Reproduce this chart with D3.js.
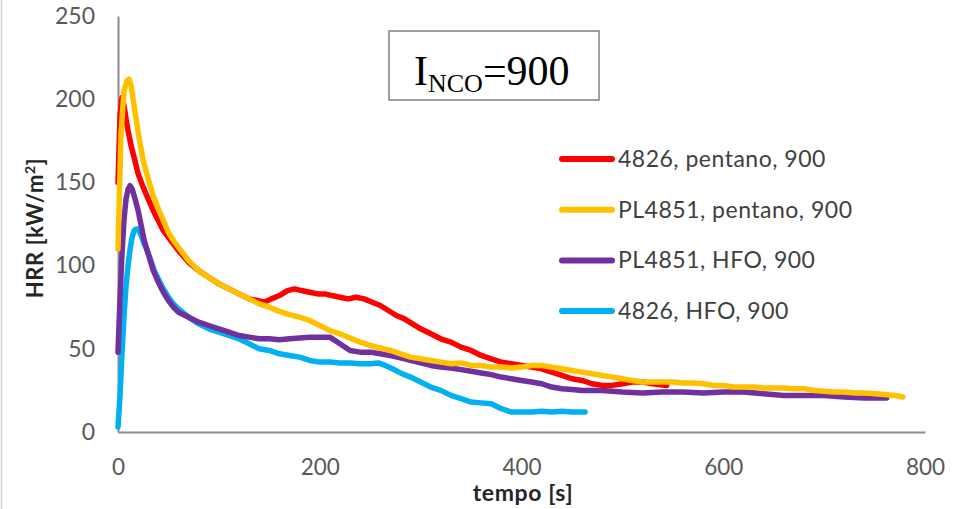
<!DOCTYPE html>
<html>
<head>
<meta charset="utf-8">
<script src="https://cdn.jsdelivr.net/npm/d3@7"></script>
<style>
  html, body { margin: 0; padding: 0; background: #fff; }
  svg { display: block; }
</style>
</head>
<body>
<svg id="chart" width="965" height="509"></svg>
<script>
// Heat release rate curves, INCO = 900
const xTicks = [0, 200, 400, 600, 800];
const yTicks = [0, 50, 100, 150, 200, 250];

const redT = [0,2,4,6,8,10,13,16,20,25,30,35,40,45,50,55,60,70,80,90,100,110,120,130,138,145,152,160,168,175,182,190,198,205,212,220,228,236,244,252,260,268,276,284,292,300,310,320,330,340,350,360,370,380,390,400,410,420,430,440,450,460,470,480,490,500,510,520,530,544];
const redV = [150,190,201,196,188,181,172,165,155,147,140,133,127,121,117,113,109,102,97,93,89,86,83,80,79,78,80,82,85,86,85,84,83,83,82,81,80,81,80,78,76,73,70,68,65,62,59,56,54,51,49,46,44,42,41,40,39,38,36,34,32,31,29,28,28,29,30,30,29,28];

const orangeT = [0,3,6,9,11,13,16,20,25,30,35,40,45,50,55,60,70,80,90,100,110,120,130,140,150,160,170,180,190,200,210,220,230,240,250,260,270,280,290,300,310,320,330,340,350,360,370,380,390,400,410,420,430,440,450,460,470,480,490,500,510,520,530,540,550,560,570,580,590,600,610,620,630,640,650,660,670,680,690,700,710,720,730,740,750,760,770,778];
const orangeV = [110,180,205,211,212,208,196,180,163,152,142,134,127,120,115,111,103,97,93,89,86,83,80,77,75,72.5,70.5,69,67,64,61,59,56.5,54,52,50.5,49,47,45,44,43,42,41,41.5,40,40,39,39,38.5,39,40,40,39,38,37,36,35,34,33,32,31,30,30,30,30,29.5,29.5,29,28,28,27,27,27,26.5,26.5,26.5,26,26,25,24.5,24,24,23.5,23.5,23,22.5,22,21];

const purpleT = [0,2,4,6,8,10,12,14,17,20,23,26,30,35,40,45,50,55,60,70,80,90,100,110,120,130,140,150,160,170,180,190,200,210,220,230,240,250,260,270,280,290,300,310,320,330,340,350,360,370,380,390,400,410,420,430,440,450,460,480,500,520,540,560,580,600,620,640,660,680,700,720,740,762];
const purpleV = [48,80,108,128,140,146,148,146,140,133,124,115,107,97,90,84,79,75,72,69,66,64,62,60,58,57,56,56,55.5,56,56.5,57,57,57,53,49,48,48,47,46,44.5,43,41.5,40,39,38.5,37.5,36.5,35.5,34.5,33,32,31,30,29,27,26,25.5,25,25,24,23.5,24,24,23.5,24,24,23,22,22,22,21,20.5,20.5];

const blueT = [0,2,4,6,8,10,12,14,16,18,20,23,26,29,32,36,40,45,50,55,60,70,80,90,100,110,120,130,140,150,160,170,180,190,200,210,220,230,240,250,258,265,272,280,290,300,310,320,330,340,350,360,370,380,390,400,410,420,430,440,450,463];
const blueV = [3,22,48,70,88,100,110,117,121,122,122,118,113,109,104,97,92,86,81,77,74,69,65,62,60,58,56,53,50,49,47,46,45,43,42,42,41.5,41.5,41,41,41.5,40,38,35.5,33,30,27,25,22,20,18,17.5,17,14,12,12,12,12.5,12,12.5,12,12];

const seriesNames = ["4826, pentano, 900", "PL4851, pentano, 900", "PL4851, HFO, 900", "4826, HFO, 900"];
const seriesColors = ["#FF0000", "#FFC000", "#7030A0", "#00B0F0"];
const seriesT = [redT, orangeT, purpleT, blueT];
const seriesV = [redV, orangeV, purpleV, blueV];

const svg = d3.select("#chart");
const x = d3.scaleLinear().domain([0, 800]).range([118, 925]);
const y = d3.scaleLinear().domain([0, 250]).range([432, 16]);

const labelFont = "Lato, 'Open Sans', sans-serif";
const axisColor = "#8C8C8C";
const textColor = "#595959";

// faint page edge on the left
svg.append("line").attr("x1", 1.5).attr("x2", 1.5).attr("y1", 0).attr("y2", 509)
  .attr("stroke", "#d0d0d0").attr("stroke-width", 1.5);

// axes
const xAxis = d3.axisBottom(x).tickValues(xTicks).tickSize(0).tickPadding(27).tickFormat(d3.format("d"));
const gx = svg.append("g").attr("transform", `translate(0,${y(0)})`).call(xAxis);
gx.select(".domain").attr("stroke", axisColor).attr("stroke-width", 2);
gx.selectAll("text").attr("font-family", labelFont).attr("font-size", 22.5).attr("fill", textColor);

const yAxis = d3.axisLeft(y).tickValues(yTicks).tickSize(0).tickPadding(23).tickFormat(d3.format("d"));
const gy = svg.append("g").attr("transform", `translate(${x(0)},0)`).call(yAxis);
gy.select(".domain").attr("stroke", axisColor).attr("stroke-width", 2);
gy.selectAll("text").attr("font-family", labelFont).attr("font-size", 23).attr("fill", textColor);

// axis titles
svg.append("text").attr("x", 523).attr("y", 501).attr("text-anchor", "middle")
  .attr("font-family", labelFont).attr("font-weight", "bold").attr("font-size", 23)
  .attr("letter-spacing", 0.6).attr("fill", "#262626")
  .text("tempo [s]");
const yt = svg.append("text").attr("transform", "translate(43,228) rotate(-90)").attr("text-anchor", "middle")
  .attr("font-family", labelFont).attr("font-weight", "bold").attr("font-size", 22)
  .attr("letter-spacing", 0.6).attr("fill", "#262626");
yt.append("tspan").text("HRR [kW/m");
yt.append("tspan").attr("font-size", 14).attr("dy", -8).text("2");
yt.append("tspan").attr("dy", 8).text("]");

// curves
const line = d3.line().x(d => x(d[0])).y(d => y(d[1])).curve(d3.curveLinear);
[3, 2, 0, 1].forEach(i => {
  const pts = seriesT[i].map((t, k) => [t, seriesV[i][k]]);
  svg.append("path").datum(pts).attr("d", line)
    .attr("fill", "none").attr("stroke", seriesColors[i]).attr("stroke-width", 5.5)
    .attr("stroke-linejoin", "round").attr("stroke-linecap", "round");
});

// legend
const legend = svg.append("g");
seriesNames.forEach((name, i) => {
  const ly = 159 + i * 50.7;
  legend.append("line").attr("x1", 562).attr("x2", 612).attr("y1", ly).attr("y2", ly)
    .attr("stroke", seriesColors[i]).attr("stroke-width", 6).attr("stroke-linecap", "round");
  legend.append("text").attr("x", 618).attr("y", ly + 8)
    .attr("font-family", labelFont).attr("font-size", 23).attr("letter-spacing", 0.5)
    .attr("fill", "#404040").text(name);
});

// annotation box
svg.append("rect").attr("x", 389).attr("y", 31).attr("width", 210).attr("height", 69)
  .attr("fill", "#fff").attr("stroke", "#808080").attr("stroke-width", 1.5);
const ann = svg.append("text").attr("x", 414).attr("y", 85)
  .attr("font-family", "'Liberation Serif', 'DejaVu Serif', serif").attr("font-size", 42).attr("fill", "#000");
ann.append("tspan").text("I");
ann.append("tspan").attr("font-size", 26).attr("dy", 7).text("NCO");
ann.append("tspan").attr("dy", -7).text("=900");
</script>
</body>
</html>
